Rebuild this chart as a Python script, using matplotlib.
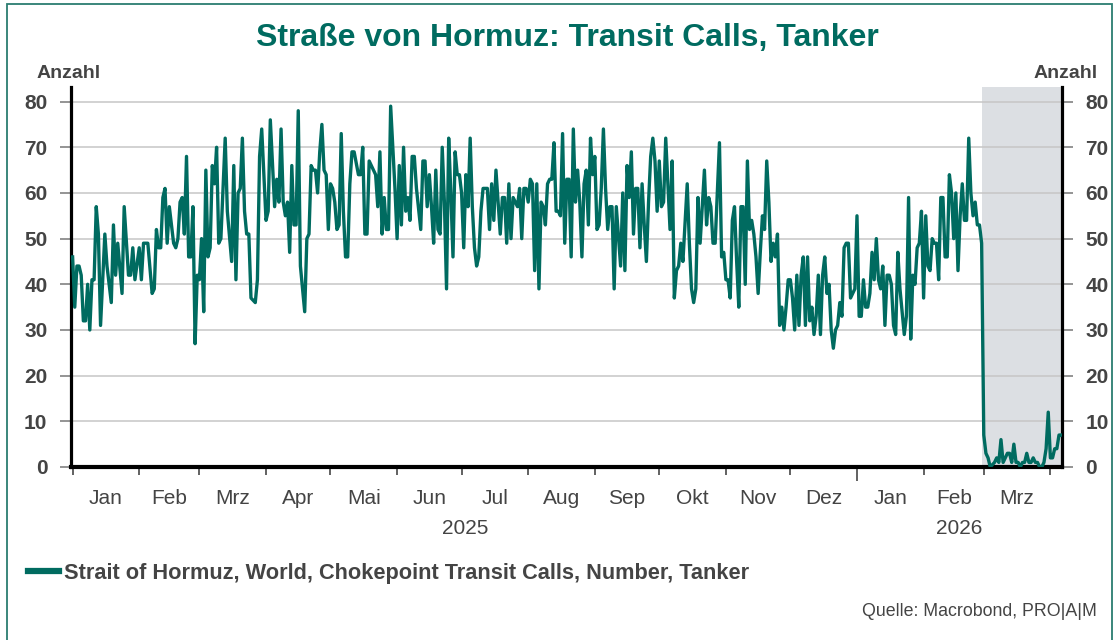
import numpy as np
import matplotlib
matplotlib.use("Agg")
import matplotlib.pyplot as plt
import matplotlib.dates as mdates
from matplotlib.lines import Line2D
from matplotlib.patches import Rectangle

TEAL = "#006b60"
INK = "#444444"
plt.rcParams["font.family"] = ["Liberation Sans", "DejaVu Sans"]

# daily tanker transit calls, day offset from START
START = np.datetime64("2025-01-01")
DAY = [0, 1, 2, 3, 4, 5, 6, 7, 8, 9, 10, 11, 12, 13, 15, 16, 18, 19, 20, 21, 23, 24, 26, 27, 28, 29,
       31, 32, 33, 35, 37, 38, 39, 40, 41, 42, 43, 44, 45, 47, 48, 49, 50, 51, 52, 53, 54, 55, 56, 57,
       58, 59, 60, 61, 62, 63, 64, 65, 66, 67, 68, 69, 71, 72, 74, 75, 76, 77, 78, 79, 80, 81, 82, 83,
       85, 86, 87, 88, 90, 91, 92, 94, 95, 96, 97, 98, 99, 100, 101, 102, 103, 104, 105, 106, 108, 109,
       110, 111, 112, 113, 114, 115, 116, 117, 118, 119, 120, 121, 122, 123, 124, 125, 126, 127, 128,
       129, 130, 131, 133, 134, 135, 136, 137, 138, 139, 140, 141, 142, 143, 144, 145, 146, 147, 148,
       150, 151, 152, 153, 154, 155, 156, 157, 158, 159, 160, 162, 163, 164, 165, 166, 167, 168, 169,
       170, 171, 172, 173, 174, 175, 176, 177, 178, 179, 180, 181, 182, 183, 184, 185, 186, 187, 188,
       189, 190, 191, 192, 193, 194, 195, 196, 197, 198, 199, 200, 201, 202, 203, 204, 205, 206, 207,
       208, 209, 210, 211, 212, 213, 214, 215, 216, 217, 218, 219, 220, 221, 222, 223, 224, 225, 226,
       227, 228, 229, 230, 231, 232, 233, 234, 235, 236, 237, 238, 239, 240, 241, 242, 243, 244, 245,
       246, 247, 248, 249, 250, 251, 252, 253, 255, 256, 257, 258, 259, 260, 261, 262, 263, 264, 265,
       266, 267, 268, 269, 270, 271, 272, 273, 274, 275, 276, 277, 278, 279, 280, 281, 282, 283, 284,
       286, 287, 288, 289, 290, 291, 292, 294, 295, 296, 297, 298, 299, 301, 302, 303, 304, 305, 306,
       307, 308, 309, 310, 311, 312, 313, 314, 315, 316, 317, 318, 319, 320, 321, 322, 323, 324, 325,
       326, 327, 328, 329, 330, 331, 332, 333, 334, 335, 336, 337, 338, 339, 340, 341, 342, 343, 344,
       345, 346, 347, 348, 349, 350, 351, 352, 353, 354, 355, 356, 357, 358, 359, 360, 361, 362, 363,
       364, 365, 366, 367, 368, 369, 370, 371, 372, 373, 374, 375, 376, 377, 378, 379, 380, 381, 382,
       383, 384, 385, 386, 387, 388, 389, 390, 391, 392, 393, 394, 395, 396, 397, 398, 399, 400, 401,
       402, 403, 404, 405, 406, 407, 408, 409, 410, 411, 412, 413, 414, 415, 416, 417, 418, 419, 420,
       421, 422, 423, 424, 425, 426, 427, 429, 430, 431, 432, 433, 434, 435, 436, 437, 438, 439, 440,
       441, 442, 443, 444, 445, 446, 447, 448, 449, 450, 451, 452, 453, 454, 455, 456, 457, 458, 459, 460]
CALLS = [46, 35, 44, 44, 42, 32, 32, 40, 30, 41, 41, 57, 51, 31, 51, 44, 36, 53, 42, 49, 38, 57, 42, 42, 48, 41,
         48, 41, 49, 49, 38, 39, 52, 48, 48, 59, 61, 49, 57, 49, 48, 50, 58, 59, 51, 68, 46, 46, 57, 27,
         42, 41, 50, 34, 65, 46, 48, 66, 62, 70, 49, 50, 72, 56, 45, 66, 41, 60, 61, 72, 56, 51, 51, 37,
         36, 41, 68, 74, 54, 56, 76, 57, 63, 58, 74, 58, 55, 58, 47, 66, 53, 53, 78, 44, 34, 50,
         51, 66, 65, 65, 60, 69, 75, 65, 64, 52, 62, 61, 58, 52, 53, 73, 56, 46, 46,
         62, 69, 69, 64, 64, 70, 51, 51, 67, 66, 65, 64, 57, 69, 51, 59, 52, 52, 79,
         61, 50, 66, 53, 70, 56, 59, 54, 68, 68, 61, 52, 67, 67, 57, 64, 57, 49, 65,
         52, 51, 70, 58, 39, 72, 60, 46, 69, 64, 64, 60, 48, 64, 57, 72, 57, 48, 44,
         46, 56, 61, 61, 61, 52, 62, 54, 65, 58, 51, 59, 59, 49, 62, 50, 59, 58, 57,
         61, 50, 61, 61, 58, 63, 62, 43, 62, 39, 58, 57, 53, 62, 63, 63, 71, 56, 56,
         55, 73, 49, 63, 63, 46, 74, 58, 65, 58, 46, 62, 65, 53, 72, 64, 68, 52, 53,
         61, 74, 61, 52, 57, 57, 39, 57, 44, 60, 43, 66, 59, 69, 51, 61, 61, 48, 62,
         53, 45, 58, 68, 72, 67, 56, 67, 57, 58, 72, 62, 52, 67, 37, 43, 44, 49, 45,
         62, 49, 39, 36, 39, 59, 49, 65, 53, 59, 57, 49, 49, 71, 46, 47, 41, 41, 37,
         54, 57, 45, 35, 57, 57, 40, 67, 52, 54, 51, 46, 38, 47, 55, 52, 67, 58, 45,
         49, 46, 51, 31, 35, 30, 35, 41, 41, 37, 30, 42, 31, 42, 46, 31, 46, 32, 35,
         29, 33, 42, 29, 42, 46, 38, 40, 30, 26, 30, 31, 36, 33, 48, 49, 49, 37, 38,
         39, 55, 33, 33, 41, 35, 35, 38, 47, 41, 50, 41, 39, 44, 31, 42, 42, 40, 31,
         29, 47, 39, 34, 29, 33, 59, 28, 42, 40, 48, 49, 56, 37, 55, 44, 43, 50, 49,
         49, 41, 59, 59, 46, 46, 64, 60, 50, 60, 43, 55, 62, 54, 54, 72, 60, 55, 58,
         53, 53, 49, 7, 3, 2, 0, 1, 2, 1, 6, 1, 2, 3, 3, 1, 5, 1, 1,
         0, 1, 1, 3, 1, 1, 2, 1, 1, 0, 0, 1, 4, 12, 2, 2, 4, 4, 7, 7]

SHADE_FROM = "2026-02-28"
MONTH_LABELS = ["Jan", "Feb", "Mrz", "Apr", "Mai", "Jun", "Jul", "Aug", "Sep", "Okt", "Nov", "Dez",
                "Jan", "Feb", "Mrz"]
YEAR_LABELS = ["2025", "2026"]

dates = START + np.array(DAY).astype("timedelta64[D]")
month_starts = np.arange("2025-01", "2026-05", dtype="datetime64[M]").astype("datetime64[D]")
ms = mdates.date2num(month_starts)
mids = (ms[:-1] + ms[1:]) / 2
x0 = mdates.date2num(START) - 0.75
x1 = mdates.date2num(START) + 460.4

fig = plt.figure(figsize=(11.17, 6.4), dpi=100)
ax = fig.add_axes([71 / 1117, 1 - 467 / 640, 991 / 1117, 380 / 640])

ax.axvspan(mdates.date2num(np.datetime64(SHADE_FROM)), x1, color="#dcdfe3", lw=0, zorder=0.2)
ax.plot(dates, CALLS, color=TEAL, lw=2.4, zorder=3)

ax.set_xlim(x0, x1)
ax.set_ylim(0, 83.2)
ax.set_yticks(range(0, 81, 10))
ax.yaxis.grid(True, color="#c6c6c6", lw=1.1)
ax.set_axisbelow(True)

for s in ("left", "right"):
    ax.spines[s].set_linewidth(2.3)
    ax.spines[s].set_color("black")
ax.spines["bottom"].set_linewidth(3.0)
ax.spines["top"].set_visible(False)

ax.tick_params(axis="y", left=True, right=True, labelleft=True, labelright=True,
               length=8, width=1.1, color="#777777", pad=9, labelsize=15, labelcolor=INK)
for lab in ax.get_yticklabels():
    lab.set_fontweight("bold")

ax.set_xticks(ms)
ax.set_xticklabels([""] * len(ms))
ax.set_xticks(mids, minor=True)
ax.set_xticklabels(MONTH_LABELS, minor=True)
ax.tick_params(axis="x", which="major", length=6, width=1.3, color="#555555")
ax.tick_params(axis="x", which="minor", length=0, pad=16, labelsize=15, labelcolor=INK)
for t, d in zip(ax.xaxis.get_major_ticks(), month_starts):
    if str(d) == "2026-01-01":
        t.tick1line.set_markersize(10)

year_mid = [(mdates.date2num(np.datetime64("2025-01-01")) + mdates.date2num(np.datetime64("2026-01-01"))) / 2,
            (mdates.date2num(np.datetime64("2026-01-01")) + x1) / 2]
for xm, lab in zip(year_mid, YEAR_LABELS):
    ax.text(xm, -0.162, lab, transform=ax.get_xaxis_transform(), ha="center", va="center",
            fontsize=15, color=INK)

fig.text(567 / 1117, 1 - 38 / 640, "Straße von Hormuz: Transit Calls, Tanker", ha="center", va="center",
         fontsize=23, fontweight="bold", color=TEAL)
fig.text(37 / 1117, 1 - 73 / 640, "Anzahl", ha="left", va="center", fontsize=14, fontweight="bold", color=INK)
fig.text(1098 / 1117, 1 - 73 / 640, "Anzahl", ha="right", va="center", fontsize=14, fontweight="bold", color=INK)

fig.legend(handles=[Line2D([], [], color=TEAL, lw=4.5)],
           labels=["Strait of Hormuz, World, Chokepoint Transit Calls, Number, Tanker"],
           loc="center left", bbox_to_anchor=(28 / 1117, 1 - 573 / 640), frameon=False,
           borderpad=0, borderaxespad=0, handlelength=1.4, handletextpad=0.25,
           prop={"weight": "bold", "size": 15.7}, labelcolor=INK)

fig.text(1097 / 1117, 1 - 612 / 640, "Quelle: Macrobond, PRO|A|M", ha="right", va="center",
         fontsize=12.8, color=INK)

fig.patches.append(Rectangle((7 / 1117, -0.05), 1105 / 1117, 1.05 - 4 / 640, transform=fig.transFigure,
                             fill=False, edgecolor="#2b7d71", lw=1.3))

fig.savefig("out.png", dpi=100)
